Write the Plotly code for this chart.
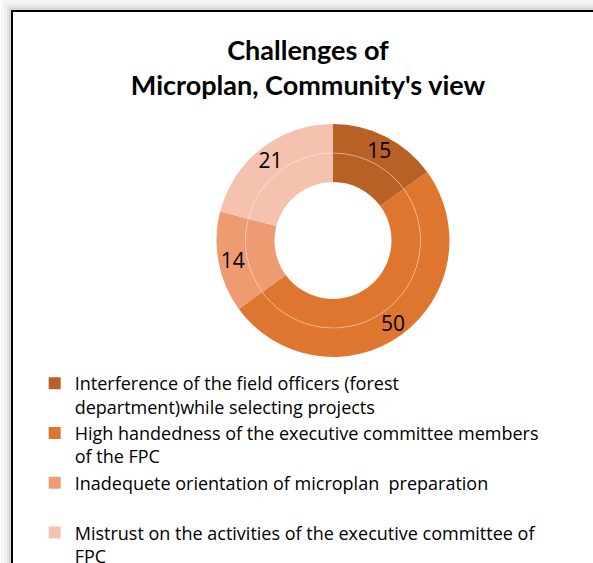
import plotly.graph_objects as go

# Survey answers: share of respondents naming each challenge
labels = [
    "Interference of the field officers (forest<br>department)while selecting projects",
    "High handedness of the executive committee members<br>of the FPC",
    "Inadequete orientation of microplan&nbsp; preparation<br> ",
    "Mistrust on the activities of the executive committee of<br>FPC",
]
values = [15, 50, 14, 21]
colors = ["#B86126", "#DE7630", "#EF9B72", "#F4C2AE"]

W, H = 593, 563
TITLE_FONT = "Lato"
TEXT_FONT = "Open Sans"

# donut geometry in pixels (centre from top-left, radii of the two rings)
CX, CY = 333, 240.5
R_OUT, R_MID, R_IN = 116.5, 87.5, 58.5
# band used to place the value labels, centred on the outer ring
R_LBL_OUT, R_LBL_IN = 122, 82


def dom(r):
    return dict(
        x=[(CX - r) / W, (CX + r) / W],
        y=[1 - (CY + r) / H, 1 - (CY - r) / H],
    )


common = dict(labels=labels, values=values, sort=False,
              direction="clockwise", rotation=0)

fig = go.Figure()

# outer ring (carries the legend)
fig.add_trace(go.Pie(
    **common,
    hole=R_MID / R_OUT, domain=dom(R_OUT),
    marker=dict(colors=colors, line=dict(width=0)),
    textinfo="none", showlegend=True,
))

# inner ring, same series
fig.add_trace(go.Pie(
    **common,
    hole=R_IN / R_MID, domain=dom(R_MID),
    marker=dict(colors=colors, line=dict(width=0)),
    textinfo="none", showlegend=False,
))

# value labels of the outer ring, on a transparent band wide enough
# for the labels to keep their full size
fig.add_trace(go.Pie(
    **common,
    hole=R_LBL_IN / R_LBL_OUT, domain=dom(R_LBL_OUT),
    marker=dict(colors=["rgba(0,0,0,0)"] * len(values), line=dict(width=0)),
    textinfo="value", textposition="inside", insidetextorientation="horizontal",
    textfont=dict(family=TEXT_FONT, size=21, color="#000000"),
    showlegend=False, hoverinfo="skip",
))

shapes = []
# soft shadow around the chart frame
for off, col in [(11, "#f7f7f7"), (8, "#efefef"), (5, "#e4e4e4"), (3, "#d6d6d6")]:
    shapes.append(dict(
        type="rect", xref="paper", yref="paper", layer="below",
        x0=(12 - off) / W, x1=1.1, y0=-0.1, y1=1 - (11 - off) / H,
        fillcolor=col, line=dict(width=0),
    ))
# chart frame
shapes.append(dict(
    type="rect", xref="paper", yref="paper", layer="below",
    x0=12 / W, x1=1.1, y0=-0.1, y1=1 - 11 / H,
    fillcolor="#ffffff", line=dict(color="#000000", width=2),
))
# faint separator between the two rings
shapes.append(dict(
    type="circle", xref="paper", yref="paper", layer="above",
    x0=(CX - R_MID) / W, x1=(CX + R_MID) / W,
    y0=1 - (CY + R_MID) / H, y1=1 - (CY - R_MID) / H,
    line=dict(color="rgba(255,255,255,0.35)", width=1),
))

fig.update_layout(
    width=W, height=H,
    margin=dict(l=0, r=0, t=0, b=0, autoexpand=False),
    paper_bgcolor="#ffffff", plot_bgcolor="#ffffff",
    font=dict(family=TEXT_FONT, color="#000000"),
    title=dict(
        text="<b>Challenges of<br>Microplan, Community's view</b>",
        x=308 / W, xanchor="center", xref="paper",
        y=1 - 60 / H, yanchor="top", yref="container",
        font=dict(family=TITLE_FONT, size=27, color="#000000"),
    ),
    legend=dict(
        x=0.0585, xanchor="left", y=1 - 365 / H, yanchor="top",
        font=dict(family=TEXT_FONT, size=18, color="#000000"),
        valign="top", bgcolor="rgba(0,0,0,0)", traceorder="normal",
    ),
    shapes=shapes,
)

fig.write_html("out.html")
